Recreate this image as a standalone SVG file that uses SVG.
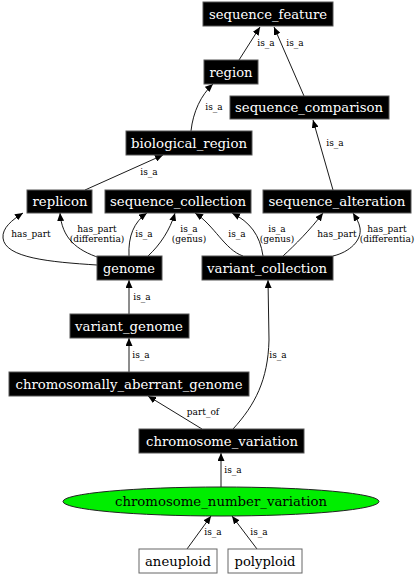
<svg xmlns="http://www.w3.org/2000/svg" width="418" height="576" viewBox="0 0 418 576">
<style>
.nb rect{fill:#000;stroke:#555;stroke-width:1}
.nw rect{fill:#fff;stroke:#666;stroke-width:1}
.nt{font-family:"DejaVu Serif",serif;font-size:13px;fill:#fff;text-anchor:middle}
.nk{font-family:"DejaVu Serif",serif;font-size:13px;fill:#000;text-anchor:middle}
.e path{fill:none;stroke:#000;stroke-width:0.9;marker-end:url(#ah)}
.l{font-family:"DejaVu Serif",serif;font-size:9px;fill:#000;text-anchor:middle}
</style>
<defs>
<marker id="ah" markerUnits="userSpaceOnUse" markerWidth="8" markerHeight="7" refX="8" refY="3.5" orient="auto">
<path d="M0,0 L8,3.5 L0,7 z" fill="#000"/>
</marker>
</defs>
<rect width="418" height="576" fill="#fff"/>
<g id="connectors" class="e">
<path d="M239,60 L260,27"/>
<path d="M304,96 L274,27"/>
<path d="M191,131 C193,112 201,95 213,84"/>
<path d="M333,190 L313,120"/>
<path d="M85,190 L163,155"/>
<path d="M97,265 C50,262 5,258 3,238 C2,228 12,220 23,213"/>
<path d="M100,258 C76,250 62,238 60,213"/>
<path d="M129,256 C128,236 134,222 147,213"/>
<path d="M148,256 C160,245 170,230 175,213"/>
<path d="M243,256 C225,250 214,225 195,213"/>
<path d="M263,256 C260,235 250,222 232,213"/>
<path d="M283,256 C295,245 310,230 323,213"/>
<path d="M333,256 C350,252 362,240 360,228 C359,222 356,218 353,213"/>
<path d="M129,314 L129,280"/>
<path d="M129,372 L129,338"/>
<path d="M202,429 L148,396"/>
<path d="M233,429 C255,405 268,380 269,340 L268,280"/>
<path d="M221,487 L221,453"/>
<path d="M187,549 L211,516"/>
<path d="M257,549 L232,516"/>
</g>
<g id="edge-labels">
<text class="l" x="266" y="46">is_a</text>
<text class="l" x="295" y="46">is_a</text>
<text class="l" x="214" y="110">is_a</text>
<text class="l" x="335" y="146">is_a</text>
<text class="l" x="149" y="175">is_a</text>
<text class="l" x="31" y="237">has_part</text>
<text class="l" x="97" y="232">has_part</text>
<text class="l" x="97" y="242">(differentia)</text>
<text class="l" x="144" y="237">is_a</text>
<text class="l" x="189" y="232">is_a</text>
<text class="l" x="189" y="242">(genus)</text>
<text class="l" x="237" y="237">is_a</text>
<text class="l" x="277" y="232">is_a</text>
<text class="l" x="277" y="242">(genus)</text>
<text class="l" x="337" y="237">has_part</text>
<text class="l" x="387" y="232">has_part</text>
<text class="l" x="387" y="242">(differentia)</text>
<text class="l" x="142" y="300">is_a</text>
<text class="l" x="141" y="358">is_a</text>
<text class="l" x="203" y="415">part_of</text>
<text class="l" x="278" y="358">is_a</text>
<text class="l" x="233" y="473">is_a</text>
<text class="l" x="213" y="535">is_a</text>
<text class="l" x="259" y="535">is_a</text>
</g>
<g id="sequence_feature" class="nb"><rect x="203" y="2" width="130" height="24"/><text class="nt" x="268" y="18.5" textLength="118" lengthAdjust="spacingAndGlyphs">sequence_feature</text></g>
<g id="region" class="nb"><rect x="204" y="60" width="54" height="24"/><text class="nt" x="231" y="76.5" textLength="43" lengthAdjust="spacingAndGlyphs">region</text></g>
<g id="sequence_comparison" class="nb"><rect x="230" y="96" width="159" height="23"/><text class="nt" x="309" y="112" textLength="148" lengthAdjust="spacingAndGlyphs">sequence_comparison</text></g>
<g id="biological_region" class="nb"><rect x="126" y="131" width="126" height="24"/><text class="nt" x="189" y="147.5" textLength="116" lengthAdjust="spacingAndGlyphs">biological_region</text></g>
<g id="replicon" class="nb"><rect x="27" y="190" width="65" height="23"/><text class="nt" x="60" y="206" textLength="55" lengthAdjust="spacingAndGlyphs">replicon</text></g>
<g id="sequence_collection" class="nb"><rect x="105" y="190" width="146" height="23"/><text class="nt" x="178" y="206" textLength="136" lengthAdjust="spacingAndGlyphs">sequence_collection</text></g>
<g id="sequence_alteration" class="nb"><rect x="263" y="190" width="148" height="23"/><text class="nt" x="337" y="206" textLength="137" lengthAdjust="spacingAndGlyphs">sequence_alteration</text></g>
<g id="genome" class="nb"><rect x="97" y="256" width="65" height="24"/><text class="nt" x="129" y="272.5" textLength="52" lengthAdjust="spacingAndGlyphs">genome</text></g>
<g id="variant_collection" class="nb"><rect x="202" y="256" width="131" height="24"/><text class="nt" x="267" y="272.5" textLength="120" lengthAdjust="spacingAndGlyphs">variant_collection</text></g>
<g id="variant_genome" class="nb"><rect x="70" y="314" width="119" height="24"/><text class="nt" x="129" y="330.5" textLength="108" lengthAdjust="spacingAndGlyphs">variant_genome</text></g>
<g id="chromosomally_aberrant_genome" class="nb"><rect x="9" y="372" width="240" height="24"/><text class="nt" x="129" y="388.5" textLength="227" lengthAdjust="spacingAndGlyphs">chromosomally_aberrant_genome</text></g>
<g id="chromosome_variation" class="nb"><rect x="139" y="429" width="165" height="24"/><text class="nt" x="222" y="445.5" textLength="152" lengthAdjust="spacingAndGlyphs">chromosome_variation</text></g>
<g id="chromosome_number_variation"><ellipse cx="221" cy="501.5" rx="158" ry="14.5" fill="#00ee00" stroke="#222" stroke-width="1"/><text class="nk" x="221" y="506" textLength="212" lengthAdjust="spacingAndGlyphs">chromosome_number_variation</text></g>
<g id="aneuploid" class="nw"><rect x="139" y="549" width="78" height="24"/><text class="nk" x="178" y="565.5" textLength="66" lengthAdjust="spacingAndGlyphs">aneuploid</text></g>
<g id="polyploid" class="nw"><rect x="228" y="549" width="74" height="24"/><text class="nk" x="265" y="565.5" textLength="61" lengthAdjust="spacingAndGlyphs">polyploid</text></g>
</svg>
